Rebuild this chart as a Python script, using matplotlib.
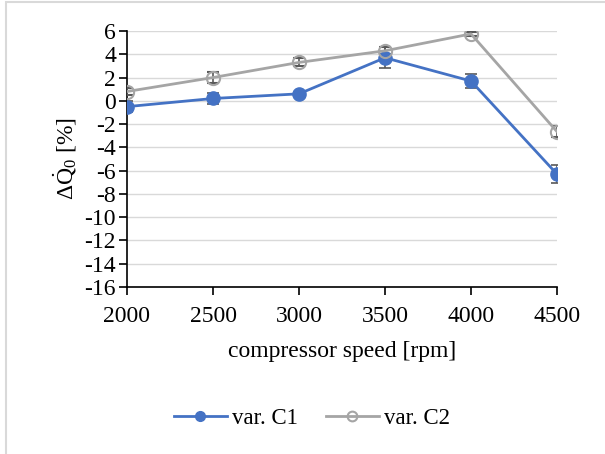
import matplotlib
matplotlib.use("Agg")
import matplotlib.pyplot as plt
from matplotlib.patches import Rectangle
from matplotlib.lines import Line2D

speed = [2000, 2500, 3000, 3500, 4000, 4500]
c1 = [-0.5, 0.2, 0.6, 3.7, 1.7, -6.3]
c1_err = [0.45, 0.45, 0.15, 0.9, 0.6, 0.75]
c2 = [0.8, 2.0, 3.3, 4.3, 5.75, -2.65]
c2_err = [0.3, 0.5, 0.35, 0.3, 0.2, 0.45]
yticks = list(range(-16, 7, 2))
xticks = [2000, 2500, 3000, 3500, 4000, 4500]

plt.rcParams['font.family'] = ['Liberation Serif', 'DejaVu Serif']
plt.rcParams['mathtext.fontset'] = 'custom'
plt.rcParams['mathtext.rm'] = 'Liberation Serif'
plt.rcParams['mathtext.it'] = 'Liberation Serif:italic'
plt.rcParams['axes.unicode_minus'] = False

fig = plt.figure(figsize=(6.05, 4.54), dpi=100)
ax = fig.add_axes([127/605, 1-287/454, (557-127)/605, (287-31)/454])

fig.patches.append(Rectangle((5.5/605, -0.1), 1.2, (1 - 2.5/454) + 0.1,
                             transform=fig.transFigure, fill=False,
                             edgecolor='#d9d9d9', linewidth=1.5))

blue = '#4472C4'
gray = '#A5A5A5'
ax.errorbar(speed, c1, yerr=c1_err, color=blue, lw=2, marker='o', ms=9.5,
            mfc=blue, mec=blue, ecolor='#595959', elinewidth=1.2, capsize=4,
            capthick=1.2, zorder=3)
ax.errorbar(speed, c2, yerr=c2_err, color=gray, lw=2, marker='o', ms=9.5,
            mfc='none', mec=gray, mew=1.5, ecolor='#595959', elinewidth=1.2,
            capsize=4, capthick=1.2, zorder=3)

ax.set_xlim(2000, 4500)
ax.set_ylim(-16, 6)
ax.set_xticks(xticks)
ax.set_yticks(yticks)
ax.grid(axis='y', color='#d9d9d9', lw=1)
ax.set_axisbelow(True)
for s in ['top', 'right']:
    ax.spines[s].set_visible(False)
for s in ['left', 'bottom']:
    ax.spines[s].set_color('black')
    ax.spines[s].set_linewidth(1.2)
ax.tick_params(axis='both', direction='out', length=6, width=1.2, labelsize=17, pad=2)
ax.tick_params(axis='x', pad=8)

ax.set_xlabel('compressor speed [rpm]', fontsize=17, labelpad=10)
ax.set_ylabel(r'$\Delta\dot{\mathrm{Q}}_0$ [%]', fontsize=17, labelpad=4)

handles = [
    Line2D([], [], color=blue, lw=2, marker='o', ms=7, mfc=blue, mec=blue),
    Line2D([], [], color=gray, lw=2, marker='o', ms=7, mfc='none', mec=gray, mew=1.5),
]
labels = ['var. C1', 'var. C2']
fig.legend(handles, labels, loc='center', bbox_to_anchor=(0.516, 1-418/454),
           ncol=2, frameon=False, fontsize=16.5, handlelength=2.3,
           columnspacing=1.2, handletextpad=0.25)

fig.savefig('out.png', dpi=100, facecolor='white')
